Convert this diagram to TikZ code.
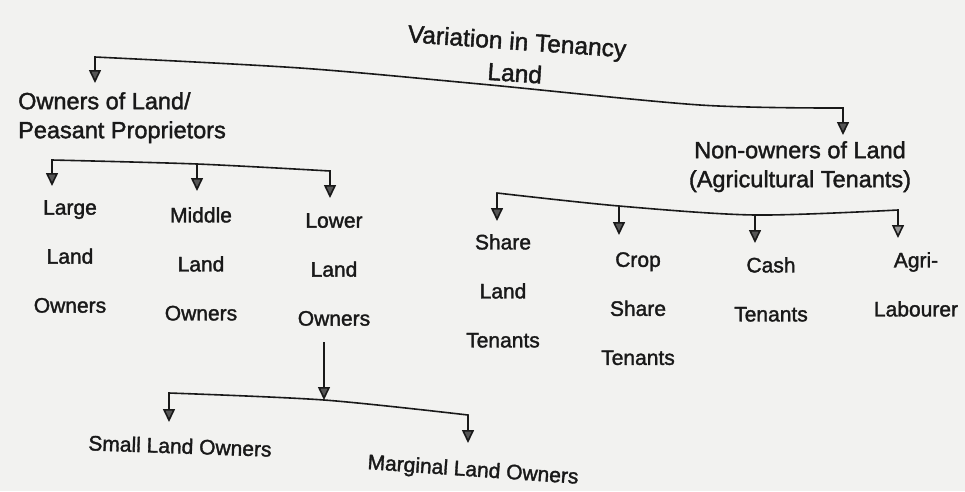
\documentclass[tikz,border=0pt]{standalone}
\usepackage{fontspec}
\setmainfont{Liberation Sans}[FakeBold=1.6]
\usetikzlibrary{arrows.meta}
\definecolor{bg}{RGB}{242,242,240}
\definecolor{headgray}{RGB}{85,85,85}
\definecolor{headlight}{RGB}{150,150,150}
\definecolor{ink}{RGB}{25,25,25}
\begin{document}
\begin{tikzpicture}[x=1pt,y=-1pt,
  bar/.style={line width=1.6pt, draw=ink, line cap=rect},
  arr/.style={line width=1.6pt, draw=ink, -{Triangle[width=12pt,length=13pt,fill=headgray]}},
  arrlight/.style={line width=1.6pt, draw=ink, -{Triangle[width=12pt,length=13pt,fill=headlight]}},
  leaf/.style={inner sep=0pt, align=center, anchor=north, text=ink, font=\fontsize{21}{49}\selectfont},
  mid/.style={inner sep=0pt, text=ink, font=\fontsize{23.5}{29}\selectfont},
  title/.style={inner sep=0pt, align=center, text=ink, font=\fontsize{24.5}{32}\selectfont},
  bottom/.style={inner sep=0pt, text=ink, font=\fontsize{21}{25}\selectfont}]
\fill[bg] (0,0) rectangle (965,491);
\useasboundingbox (0,0) rectangle (965,491);

% texts
\node[title, rotate=-4] (root) at (516,57) {Variation in Tenancy\\Land};
\node[mid, align=left, anchor=north west] (own) at (18,92) {Owners of Land/\\Peasant Proprietors};
\node[mid, align=center, anchor=north] (non) at (800,141) {Non-owners of Land\\(Agricultural Tenants)};

\node[leaf] (large) at (70,200) {Large\\Land\\Owners};
\node[leaf] (middle) at (201,207) {Middle\\Land\\Owners};
\node[leaf] (lower) at (334,213) {Lower\\Land\\Owners};

\node[leaf] (share) at (503,234) {Share\\Land\\Tenants};
\node[leaf] (crop) at (638,252) {Crop\\Share\\Tenants};
\node[leaf] (cash) at (771,257) {Cash\\Tenants};
\node[leaf] (agri) at (916,252) {Agri-\\Labourer};

\node[bottom, rotate=-2] (small) at (180,446) {Small Land Owners};
\node[bottom, rotate=-4] (marg) at (473,471) {Marginal Land Owners};

% main connector
\coordinate (m0) at (95,57);
\coordinate (m1) at (300,68);
\coordinate (m2) at (480,84);
\coordinate (m3) at (700,105);
\coordinate (m4) at (843,108);
\coordinate (tOwn) at (95,83);
\coordinate (tNon) at (843,135);
\draw[bar] plot[smooth, tension=0.5] coordinates {(m0) (m1) (m2) (m3) (m4)};
\draw[arr] (m0) -- (tOwn);
\draw[arr] (m4) -- (tNon);

% owners sub-connector
\coordinate (o0) at (52,160);
\coordinate (o1) at (197,164);
\coordinate (o2) at (330,171);
\coordinate (tLarge) at (52,186);
\coordinate (tMiddle) at (197,191);
\coordinate (tLower) at (330,198);
\draw[bar] plot[smooth, tension=0.5] coordinates {(o0) (o1) (o2)};
\draw[arr] (o0) -- (tLarge);
\draw[arr] (o1) -- (tMiddle);
\draw[arr] (o2) -- (tLower);

% non-owners sub-connector
\coordinate (n0) at (497,193);
\coordinate (n1) at (619,206);
\coordinate (n2) at (755,215);
\coordinate (n3) at (898,210);
\coordinate (tShare) at (497,221);
\coordinate (tCrop) at (619,235);
\coordinate (tCash) at (755,243);
\coordinate (tAgri) at (898,238);
\draw[bar] plot[smooth, tension=0.5] coordinates {(n0) (n1) (n2) (n3)};
\draw[arr] (n0) -- (tShare);
\draw[arr] (n1) -- (tCrop);
\draw[arr] (n2) -- (tCash);
\draw[arrlight] (n3) -- (tAgri);

% lower land owners sub-connector
\coordinate (l0) at (324,342);
\coordinate (lb0) at (169,393);
\coordinate (lb1) at (324,400);
\coordinate (lb2) at (468,415);
\coordinate (tSmall) at (169,422);
\coordinate (tMarg) at (468,443);
\draw[arr] (l0) -- (lb1);
\draw[bar] plot[smooth, tension=0.5] coordinates {(lb0) (lb1) (lb2)};
\draw[arr] (lb0) -- (tSmall);
\draw[arr] (lb2) -- (tMarg);
\end{tikzpicture}
\end{document}
